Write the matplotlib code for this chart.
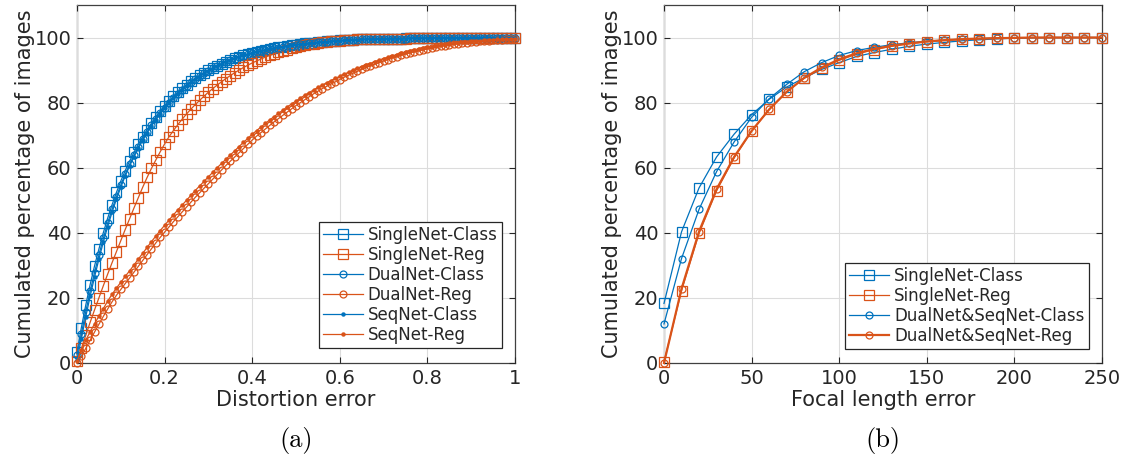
import numpy as np
import matplotlib
matplotlib.use("Agg")
import matplotlib.pyplot as plt

# ---------------- data: (a) distortion error ----------------
dist_x = np.linspace(0, 1, 101)

single_class = [
    3.5, 10.9, 17.8, 24.1, 29.8, 35.0, 40.0, 44.5, 48.6, 52.4,
    55.9, 59.1, 62.0, 64.7, 67.2, 69.5, 71.7, 73.7, 75.6, 77.4,
    79.0, 80.5, 81.9, 83.2, 84.4, 85.5, 86.5, 87.5, 88.4, 89.2,
    90.0, 90.7, 91.4, 92.0, 92.6, 93.1, 93.6, 94.1, 94.5, 94.9,
    95.3, 95.6, 95.9, 96.2, 96.5, 96.8, 97.0, 97.2, 97.4, 97.6,
    97.8, 98.0, 98.2, 98.3, 98.4, 98.6, 98.7, 98.8, 98.9, 99.0,
    99.1, 99.2, 99.2, 99.3, 99.4, 99.4, 99.5, 99.5, 99.6, 99.6,
    99.6, 99.7, 99.7, 99.7, 99.7, 99.8, 99.8, 99.8, 99.8, 99.8,
    99.8, 99.9, 99.9, 99.9, 99.9, 99.9, 99.9, 99.9, 99.9, 99.9,
    99.9, 100.0, 100.0, 100.0, 100.0, 100.0, 100.0, 100.0, 100.0, 100.0,
    100.0]

single_reg = [
    0.5, 4.5, 8.5, 12.5, 16.3, 20.0, 23.7, 27.3, 30.8, 34.2,
    37.6, 41.0, 44.3, 47.6, 50.8, 54.0, 57.0, 59.8, 62.4, 64.9,
    67.3, 69.5, 71.4, 73.2, 74.9, 76.5, 78.0, 79.4, 80.7, 82.0,
    83.2, 84.3, 85.4, 86.4, 87.4, 88.3, 89.2, 90.0, 90.8, 91.5,
    92.2, 92.8, 93.4, 94.0, 94.5, 95.0, 95.5, 95.9, 96.3, 96.7,
    97.0, 97.3, 97.6, 97.9, 98.1, 98.3, 98.5, 98.7, 98.8, 98.9,
    99.0, 99.1, 99.2, 99.3, 99.4, 99.4, 99.5, 99.5, 99.6, 99.6,
    99.7, 99.7, 99.7, 99.7, 99.7, 99.7, 99.8, 99.8, 99.8, 99.8,
    99.8, 99.9, 99.9, 99.9, 99.9, 99.9, 99.9, 99.9, 99.9, 99.9,
    99.9, 100.0, 100.0, 100.0, 100.0, 100.0, 100.0, 100.0, 100.0, 100.0,
    100.0]

dual_class = [
    2.5, 9.0, 15.8, 22.0, 27.8, 33.2, 38.3, 43.0, 47.2, 51.1,
    54.7, 58.0, 61.0, 63.8, 66.4, 68.8, 71.0, 73.1, 75.0, 76.8,
    78.5, 80.0, 81.5, 82.8, 84.0, 85.2, 86.2, 87.2, 88.1, 89.0,
    89.8, 90.5, 91.2, 91.9, 92.5, 93.0, 93.5, 94.0, 94.4, 94.8,
    95.2, 95.5, 95.8, 96.1, 96.4, 96.7, 96.9, 97.1, 97.3, 97.5,
    97.7, 97.9, 98.1, 98.2, 98.3, 98.5, 98.6, 98.7, 98.8, 98.9,
    99.0, 99.1, 99.2, 99.2, 99.3, 99.4, 99.4, 99.5, 99.5, 99.6,
    99.6, 99.7, 99.7, 99.7, 99.7, 99.7, 99.8, 99.8, 99.8, 99.8,
    99.8, 99.9, 99.9, 99.9, 99.9, 99.9, 99.9, 99.9, 99.9, 99.9,
    99.9, 100.0, 100.0, 100.0, 100.0, 100.0, 100.0, 100.0, 100.0, 100.0,
    100.0]

dual_reg = [
    0.0, 2.0, 4.5, 7.0, 9.5, 11.9, 14.3, 16.6, 18.8, 20.8,
    22.6, 24.4, 26.1, 27.9, 29.7, 31.5, 33.3, 35.1, 36.9, 38.6,
    40.2, 41.8, 43.4, 44.9, 46.4, 47.9, 49.4, 50.9, 52.3, 53.7,
    55.1, 56.5, 57.9, 59.3, 60.7, 62.0, 63.3, 64.6, 65.9, 67.2,
    68.5, 69.7, 70.8, 71.9, 73.0, 74.1, 75.1, 76.1, 77.1, 78.1,
    79.1, 80.0, 80.9, 81.8, 82.7, 83.5, 84.3, 85.0, 85.7, 86.4,
    87.1, 87.8, 88.4, 89.0, 89.6, 90.2, 90.8, 91.3, 91.8, 92.3,
    92.8, 93.2, 93.7, 94.1, 94.5, 94.9, 95.3, 95.6, 95.9, 96.2,
    96.5, 96.8, 97.0, 97.3, 97.5, 97.7, 97.9, 98.1, 98.3, 98.4,
    98.6, 98.7, 98.8, 98.9, 99.0, 99.1, 99.2, 99.3, 99.4, 99.5,
    99.6]

seq_class = [
    1.0, 7.5, 14.2, 20.5, 26.4, 31.9, 37.1, 41.9, 46.3, 50.3,
    54.0, 57.4, 60.5, 63.3, 66.0, 68.4, 70.7, 72.8, 74.7, 76.5,
    78.2, 79.8, 81.3, 82.7, 84.0, 85.1, 86.2, 87.2, 88.1, 89.0,
    89.8, 90.6, 91.3, 91.9, 92.5, 93.1, 93.6, 94.1, 94.5, 94.9,
    95.3, 95.6, 95.9, 96.2, 96.5, 96.8, 97.0, 97.2, 97.4, 97.6,
    97.8, 98.0, 98.1, 98.3, 98.4, 98.5, 98.6, 98.7, 98.8, 98.9,
    99.0, 99.1, 99.2, 99.2, 99.3, 99.4, 99.4, 99.5, 99.5, 99.6,
    99.6, 99.7, 99.7, 99.7, 99.7, 99.7, 99.8, 99.8, 99.8, 99.8,
    99.8, 99.9, 99.9, 99.9, 99.9, 99.9, 99.9, 99.9, 99.9, 99.9,
    99.9, 100.0, 100.0, 100.0, 100.0, 100.0, 100.0, 100.0, 100.0, 100.0,
    100.0]

seq_reg = [
    0.5, 4.0, 7.0, 9.6, 12.0, 14.4, 16.7, 19.0, 21.1, 23.0,
    24.8, 26.6, 28.3, 30.1, 31.9, 33.7, 35.5, 37.3, 39.0, 40.7,
    42.3, 43.9, 45.5, 47.0, 48.5, 50.0, 51.5, 53.0, 54.4, 55.8,
    57.2, 58.6, 60.0, 61.3, 62.6, 63.9, 65.2, 66.5, 67.8, 69.0,
    70.3, 71.4, 72.5, 73.6, 74.7, 75.7, 76.7, 77.7, 78.7, 79.6,
    80.5, 81.4, 82.3, 83.1, 83.9, 84.7, 85.4, 86.1, 86.8, 87.5,
    88.1, 88.7, 89.3, 89.9, 90.5, 91.0, 91.5, 92.0, 92.5, 93.0,
    93.5, 93.9, 94.3, 94.7, 95.1, 95.5, 95.8, 96.1, 96.4, 96.7,
    97.0, 97.2, 97.4, 97.6, 97.8, 98.0, 98.2, 98.3, 98.5, 98.6,
    98.8, 98.9, 99.0, 99.1, 99.2, 99.3, 99.4, 99.4, 99.5, 99.6,
    99.6]

# ---------------- data: (b) focal length error ----------------
focal_x = np.arange(0, 251, 10)
f_single_class = [18.3, 40.3, 53.8, 63.3, 70.3, 76.3, 81.0, 84.8, 87.6, 90.2,
                  92.3, 94.2, 95.4, 96.4, 97.3, 98.0, 98.5, 99.0, 99.3, 99.6,
                  99.8, 99.9, 100.0, 100.0, 100.0, 100.0]
f_single_reg = [0.3, 22.2, 39.8, 52.9, 63.0, 71.2, 77.9, 83.3, 87.5, 90.5,
                93.0, 94.9, 96.3, 97.3, 98.1, 98.7, 99.1, 99.4, 99.6, 99.8,
                99.9, 100.0, 100.0, 100.0, 100.0, 100.0]
f_dualseq_class = [12.0, 32.1, 47.2, 58.8, 67.9, 75.5, 81.2, 85.6, 89.5, 92.3,
                   94.5, 96.0, 97.0, 97.8, 98.4, 98.9, 99.2, 99.5, 99.7, 99.8,
                   99.9, 100.0, 100.0, 100.0, 100.0, 100.0]
f_dualseq_reg = [0.0, 22.8, 40.4, 53.4, 63.3, 71.3, 77.9, 83.3, 87.6, 90.8,
                 93.3, 95.2, 96.5, 97.5, 98.2, 98.8, 99.2, 99.5, 99.7, 99.8,
                 99.9, 100.0, 100.0, 100.0, 100.0, 100.0]

y_ticks = [0, 20, 40, 60, 80, 100]
dist_ticks = [0, 0.2, 0.4, 0.6, 0.8, 1]
dist_ticklabels = ["0", "0.2", "0.4", "0.6", "0.8", "1"]
focal_ticks = [0, 50, 100, 150, 200, 250]

BLUE = "#0072BD"
ORANGE = "#D95319"
AXC = "#262626"

plt.rcParams['font.family'] = ['DejaVu Sans']

fig = plt.figure(figsize=(11.23, 4.66), dpi=100)
W, H = 1123, 466
ax1 = fig.add_axes([77 / W, (H - 363) / H, 438 / W, 358 / H])
ax2 = fig.add_axes([664 / W, (H - 363) / H, 438 / W, 358 / H])

def style(ax):
    ax.set_ylim(0, 110)
    ax.set_yticks(y_ticks)
    ax.grid(True, color="#dcdcdc", linewidth=0.8)
    ax.set_axisbelow(True)
    ax.tick_params(direction="in", top=True, right=True, length=4,
                   width=0.8, labelsize=14, colors=AXC, pad=4)
    for s in ax.spines.values():
        s.set_color("#404040")
        s.set_linewidth(0.9)
        s.set_zorder(0.5)
    ax.set_ylabel("Cumulated percentage of images", fontsize=15, color=AXC, labelpad=0)

lw = 0.9
sq = dict(marker="s", markersize=7.5, markerfacecolor="none", markeredgewidth=0.9,
          clip_on=False)
ci = dict(marker="o", markersize=5, markerfacecolor="none", markeredgewidth=0.9,
          clip_on=False)
dt = dict(marker="o", markersize=3.2, markeredgewidth=0, clip_on=False)

ax1.plot(dist_x, single_class, color=BLUE, lw=lw, label="SingleNet-Class", **sq)
ax1.plot(dist_x, single_reg, color=ORANGE, lw=lw, label="SingleNet-Reg", **sq)
ax1.plot(dist_x, dual_class, color=BLUE, lw=lw, label="DualNet-Class", **ci)
ax1.plot(dist_x, dual_reg, color=ORANGE, lw=lw, label="DualNet-Reg", **ci)
ax1.plot(dist_x, seq_class, color=BLUE, lw=lw, label="SeqNet-Class", **dt)
ax1.plot(dist_x, seq_reg, color=ORANGE, lw=lw, label="SeqNet-Reg", **dt)
ax1.set_xlim(0, 1)
ax1.set_xticks(dist_ticks)
ax1.set_xticklabels(dist_ticklabels)
style(ax1)
ax1.set_xlabel("Distortion error", fontsize=15, color=AXC, labelpad=2)

ax2.plot(focal_x, f_single_class, color=BLUE, lw=lw, label="SingleNet-Class", **sq)
ax2.plot(focal_x, f_single_reg, color=ORANGE, lw=lw, label="SingleNet-Reg", **sq)
ax2.plot(focal_x, f_dualseq_class, color=BLUE, lw=lw, label="DualNet&SeqNet-Class", **ci)
ax2.plot(focal_x, f_dualseq_reg, color=ORANGE, lw=1.6, label="DualNet&SeqNet-Reg", **ci)
ax2.set_xlim(0, 250)
ax2.set_xticks(focal_ticks)
style(ax2)
ax2.set_xlabel("Focal length error", fontsize=15, color=AXC, labelpad=2)

leg_kw = dict(loc="lower right", fontsize=12, frameon=True, fancybox=False,
              edgecolor=AXC, framealpha=1, handlelength=2.4, handletextpad=0.3,
              labelspacing=0.12, borderpad=0.25, borderaxespad=0, numpoints=1)
l1 = ax1.legend(bbox_to_anchor=(0.970, 0.042), **leg_kw)
l2 = ax2.legend(bbox_to_anchor=(0.970, 0.039), **leg_kw)
for l in (l1, l2):
    l.get_frame().set_linewidth(0.9)
    l.set_zorder(5)
    for t in l.get_texts():
        t.set_color(AXC)

fig.text(296 / W, 1 - 440 / H, "(a)", fontfamily="cmr10", fontsize=19,
         ha="center", va="center", color="black")
fig.text(883 / W, 1 - 440 / H, "(b)", fontfamily="cmr10", fontsize=19,
         ha="center", va="center", color="black")

fig.savefig("out.png", dpi=100)
